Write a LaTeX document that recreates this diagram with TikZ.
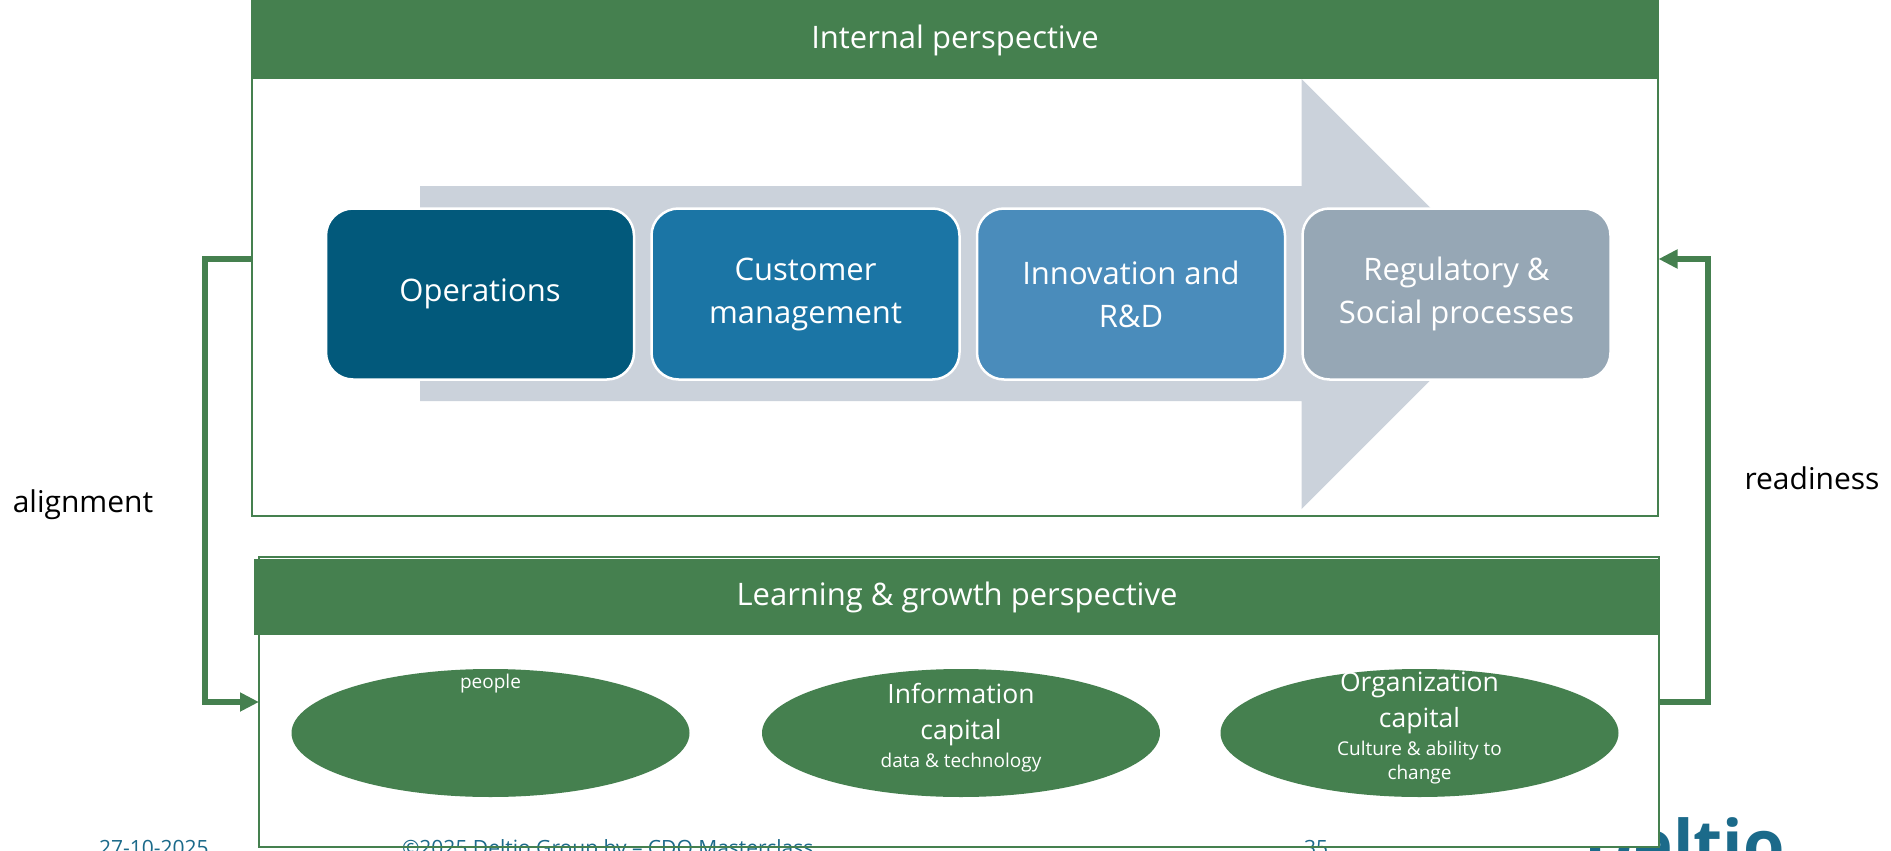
\documentclass[tikz,border=0pt]{standalone}
\usepackage{fontspec}
\setmainfont{Open Sans}
\usetikzlibrary{positioning,arrows.meta,shapes.geometric}
\definecolor{panelgreen}{HTML}{45804F}
\definecolor{opsblue}{HTML}{02597B}
\definecolor{custblue}{HTML}{1B75A5}
\definecolor{innoblue}{HTML}{4A8CBB}
\definecolor{reggrey}{HTML}{96A7B5}
\definecolor{arrowgrey}{HTML}{CBD2DB}
\definecolor{footteal}{HTML}{1B6A8A}

\begin{document}
\begin{tikzpicture}[x=1pt,y=-1pt,node distance=17.5pt,
  every node/.style = {outer sep=0pt, inner sep=0pt, align=center},
  panelframe/.style = {shape=rectangle, draw=panelgreen, line width=2.4pt},
  panelhead/.style = {shape=rectangle, fill=panelgreen, text=white, font=\fontsize{31}{38}\selectfont},
  stepbox/.style = {shape=rectangle, rounded corners=27pt, draw=white, line width=2.5pt, text=white,
    minimum width=308pt, minimum height=171pt, font=\fontsize{31}{43}\selectfont},
  capital/.style = {shape=ellipse, fill=panelgreen, minimum width=398pt, minimum height=128pt},
  capitaltext/.style = {text=white, font=\fontsize{26.5}{36}\selectfont},
  sidetext/.style = {font=\fontsize{30}{36}\selectfont},
  foot/.style = {anchor=base west, text=footteal, font=\fontsize{21}{25}\selectfont},
  flow/.style = {draw=panelgreen, line width=6pt, -{Triangle[width=18pt,length=19pt]}}]

  \useasboundingbox (0,0) rectangle (1891,851);

  \node[anchor=base west, text=footteal, font=\fontsize{67}{70}\selectfont\bfseries] (logo) at (1584,868) {Deltio};

  \draw[flow] (1659,702) -- ++(49,0) |- (1658.5,259);

  \node[panelframe] (internal) at (955,258.5) [minimum width=1406pt, minimum height=515pt] {};
  \node[panelhead, minimum width=1407pt, minimum height=78pt] (internalhead) at (955,40) {Internal perspective};

  \fill[arrowgrey] (420,186) -- (1301.5,186) -- (1301.5,79) -- (1516.5,294) -- (1301.5,509) -- (1301.5,401) -- (420,401) -- cycle;

  \node[stepbox, fill=opsblue] (operations) at (480,294) {Operations};
  \node[stepbox, fill=custblue, right=of operations] (customer) {Customer\\management};
  \node[stepbox, fill=innoblue, right=of customer] (innovation) {Innovation and\\R\&D};
  \node[stepbox, fill=reggrey, right=of innovation] (regulatory) {Regulatory \&\\Social processes};

  \node[panelframe, fill=white, minimum width=1400pt, minimum height=290pt] (learning) at (959,702) {};
  \node[panelhead, minimum width=1406pt, minimum height=76pt] (learninghead) at (957,597) {Learning \& growth perspective};

  \node[capital] (human) at (490.5,733) {};
  \node[capital] (information) at (961,733) {};
  \node[capital] (organization) at (1419.5,733) {};

  \node[capitaltext, below=-64pt of human.center, anchor=center, yshift=2pt] (humantext) {Human capital\\[-8pt]{\fontsize{19}{24}\selectfont people}};
  \node[capitaltext, anchor=center, yshift=5pt] (informationtext) at (information) {Information\\capital\\[-8pt]{\fontsize{19}{24}\selectfont data \& technology}};
  \node[capitaltext, anchor=center, yshift=5pt] (organizationtext) at (organization) {Organization\\capital\\[-8pt]{\fontsize{19}{24}\selectfont Culture \& ability to}\\[-12pt]{\fontsize{19}{24}\selectfont change}};

  \node[foot] (footdate) at (99,855) {27-10-2025};
  \node[foot] (footcopy) at (402,855) {©2025 Deltio Group bv – CDO Masterclass};
  \node[foot] (footpage) at (1304,855) {35};
  \draw[panelgreen, line width=2.4pt] (learning.south west) -- (learning.south east);

  \draw[flow] (internal.west) -- ++(-47,0) |- (learning.west);

  \node[sidetext] (alignment) at (83,505) {alignment};
  \node[sidetext] (readiness) at (1812,478) {readiness};
\end{tikzpicture}
\end{document}
